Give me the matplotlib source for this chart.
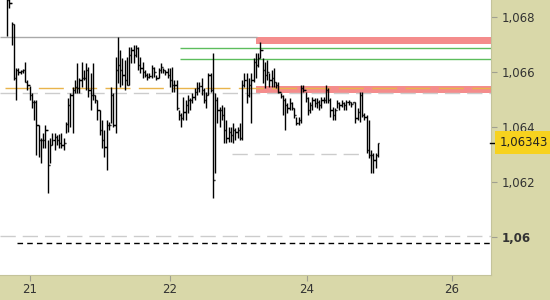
"""EUR/USD intraday OHLC bars with support/resistance levels."""

import matplotlib
matplotlib.use('Agg')
import matplotlib.pyplot as plt
import matplotlib.transforms as mtransforms

# --- data ------------------------------------------------------------------
highs = [
    1.06898, 1.06880, 1.06782, 1.06774, 1.06615, 1.06615, 1.06607, 1.06611, 1.06637, 1.06571,
    1.06549, 1.06524, 1.06498, 1.06498, 1.06407, 1.06360, 1.06378, 1.06407, 1.06353, 1.06360,
    1.06378, 1.06378, 1.06371, 1.06375, 1.06378, 1.06360, 1.06418, 1.06505, 1.06524, 1.06546,
    1.06571, 1.06633, 1.06578, 1.06637, 1.06607, 1.06633, 1.06619, 1.06596, 1.06633, 1.06517,
    1.06498, 1.06462, 1.06425, 1.06389, 1.06425, 1.06418, 1.06546, 1.06524, 1.06655, 1.06727,
    1.06680, 1.06651, 1.06644, 1.06655, 1.06691, 1.06691, 1.06698, 1.06698, 1.06691, 1.06655,
    1.06637, 1.06607, 1.06596, 1.06596, 1.06626, 1.06619, 1.06589, 1.06615, 1.06633, 1.06615,
    1.06607, 1.06615, 1.06615, 1.06619, 1.06571, 1.06571, 1.06462, 1.06451, 1.06509, 1.06498,
    1.06517, 1.06505, 1.06524, 1.06542, 1.06564, 1.06564, 1.06578, 1.06542, 1.06527, 1.06596,
    1.06596, 1.06669, 1.06524, 1.06509, 1.06473, 1.06480, 1.06473, 1.06425, 1.06400, 1.06400,
    1.06414, 1.06396, 1.06400, 1.06414, 1.06571, 1.06596, 1.06596, 1.06578, 1.06596, 1.06651,
    1.06669, 1.06669, 1.06709, 1.06651, 1.06637, 1.06644, 1.06596, 1.06607, 1.06615, 1.06564,
    1.06564, 1.06524, 1.06517, 1.06505, 1.06487, 1.06505, 1.06491, 1.06469, 1.06436, 1.06436,
    1.06553, 1.06553, 1.06527, 1.06509, 1.06491, 1.06509, 1.06505, 1.06505, 1.06498, 1.06509,
    1.06509, 1.06553, 1.06542, 1.06505, 1.06473, 1.06469, 1.06498, 1.06491, 1.06498, 1.06491,
    1.06498, 1.06498, 1.06491, 1.06491, 1.06491, 1.06469, 1.06527, 1.06527, 1.06451, 1.06444,
    1.06425, 1.06316, 1.06305, 1.06305, 1.06342,
]
lows = [
    1.06731, 1.06833, 1.06698, 1.06571, 1.06498, 1.06589, 1.06592, 1.06596, 1.06564, 1.06535,
    1.06498, 1.06469, 1.06425, 1.06298, 1.06291, 1.06269, 1.06324, 1.06324, 1.06160, 1.06269,
    1.06335, 1.06316, 1.06335, 1.06324, 1.06324, 1.06316, 1.06378, 1.06382, 1.06400, 1.06378,
    1.06524, 1.06524, 1.06524, 1.06546, 1.06571, 1.06535, 1.06509, 1.06462, 1.06498, 1.06487,
    1.06425, 1.06371, 1.06324, 1.06291, 1.06244, 1.06389, 1.06414, 1.06400, 1.06378, 1.06560,
    1.06546, 1.06553, 1.06535, 1.06553, 1.06553, 1.06633, 1.06633, 1.06655, 1.06607, 1.06596,
    1.06578, 1.06582, 1.06571, 1.06578, 1.06578, 1.06582, 1.06571, 1.06578, 1.06596, 1.06596,
    1.06589, 1.06578, 1.06546, 1.06527, 1.06527, 1.06462, 1.06425, 1.06400, 1.06425, 1.06425,
    1.06451, 1.06462, 1.06487, 1.06498, 1.06517, 1.06527, 1.06517, 1.06487, 1.06469, 1.06517,
    1.06527, 1.06142, 1.06233, 1.06414, 1.06400, 1.06425, 1.06342, 1.06342, 1.06346, 1.06346,
    1.06342, 1.06353, 1.06360, 1.06353, 1.06353, 1.06546, 1.06487, 1.06509, 1.06414, 1.06564,
    1.06578, 1.06619, 1.06651, 1.06560, 1.06542, 1.06571, 1.06546, 1.06546, 1.06546, 1.06542,
    1.06524, 1.06505, 1.06444, 1.06389, 1.06451, 1.06462, 1.06462, 1.06433, 1.06407, 1.06407,
    1.06414, 1.06527, 1.06491, 1.06444, 1.06451, 1.06462, 1.06473, 1.06469, 1.06462, 1.06469,
    1.06487, 1.06487, 1.06487, 1.06436, 1.06425, 1.06425, 1.06469, 1.06462, 1.06473, 1.06462,
    1.06462, 1.06480, 1.06473, 1.06487, 1.06414, 1.06425, 1.06418, 1.06436, 1.06425, 1.06305,
    1.06287, 1.06233, 1.06233, 1.06251, 1.06291,
]
closes = [
    1.06862, 1.06851, 1.06774, 1.06578, 1.06607, 1.06600, 1.06603, 1.06607, 1.06564, 1.06553,
    1.06517, 1.06491, 1.06491, 1.06407, 1.06353, 1.06353, 1.06353, 1.06389, 1.06262, 1.06335,
    1.06353, 1.06364, 1.06353, 1.06342, 1.06335, 1.06342, 1.06411, 1.06480, 1.06517, 1.06535,
    1.06546, 1.06542, 1.06571, 1.06578, 1.06578, 1.06607, 1.06535, 1.06517, 1.06517, 1.06498,
    1.06462, 1.06389, 1.06353, 1.06327, 1.06407, 1.06407, 1.06517, 1.06407, 1.06607, 1.06626,
    1.06607, 1.06589, 1.06571, 1.06553, 1.06662, 1.06680, 1.06662, 1.06687, 1.06626, 1.06615,
    1.06600, 1.06589, 1.06582, 1.06585, 1.06615, 1.06600, 1.06578, 1.06607, 1.06619, 1.06607,
    1.06600, 1.06589, 1.06571, 1.06553, 1.06553, 1.06469, 1.06444, 1.06433, 1.06455, 1.06480,
    1.06498, 1.06498, 1.06509, 1.06527, 1.06542, 1.06549, 1.06535, 1.06498, 1.06517, 1.06589,
    1.06535, 1.06207, 1.06498, 1.06462, 1.06462, 1.06444, 1.06389, 1.06360, 1.06382, 1.06371,
    1.06389, 1.06382, 1.06389, 1.06360, 1.06553, 1.06571, 1.06517, 1.06553, 1.06571, 1.06637,
    1.06626, 1.06651, 1.06680, 1.06607, 1.06589, 1.06600, 1.06571, 1.06578, 1.06564, 1.06553,
    1.06527, 1.06513, 1.06498, 1.06480, 1.06469, 1.06487, 1.06469, 1.06444, 1.06414, 1.06425,
    1.06542, 1.06535, 1.06505, 1.06462, 1.06480, 1.06498, 1.06487, 1.06491, 1.06480, 1.06498,
    1.06498, 1.06535, 1.06498, 1.06462, 1.06444, 1.06462, 1.06487, 1.06480, 1.06487, 1.06480,
    1.06491, 1.06491, 1.06484, 1.06491, 1.06433, 1.06455, 1.06517, 1.06444, 1.06436, 1.06316,
    1.06298, 1.06298, 1.06280, 1.06298, 1.06343,
]
opens = [
    1.06880, 1.06862, 1.06851, 1.06774, 1.06578, 1.06607, 1.06600, 1.06603, 1.06607, 1.06564,
    1.06553, 1.06517, 1.06491, 1.06491, 1.06407, 1.06353, 1.06353, 1.06353, 1.06389, 1.06262,
    1.06335, 1.06353, 1.06364, 1.06353, 1.06342, 1.06335, 1.06342, 1.06411, 1.06480, 1.06517,
    1.06535, 1.06546, 1.06542, 1.06571, 1.06578, 1.06578, 1.06607, 1.06535, 1.06517, 1.06517,
    1.06498, 1.06462, 1.06389, 1.06353, 1.06327, 1.06407, 1.06407, 1.06517, 1.06407, 1.06607,
    1.06626, 1.06607, 1.06589, 1.06571, 1.06553, 1.06662, 1.06680, 1.06662, 1.06687, 1.06626,
    1.06615, 1.06600, 1.06589, 1.06582, 1.06585, 1.06615, 1.06600, 1.06578, 1.06607, 1.06619,
    1.06607, 1.06600, 1.06589, 1.06571, 1.06553, 1.06553, 1.06469, 1.06444, 1.06433, 1.06455,
    1.06480, 1.06498, 1.06498, 1.06509, 1.06527, 1.06542, 1.06549, 1.06535, 1.06498, 1.06517,
    1.06589, 1.06535, 1.06207, 1.06498, 1.06462, 1.06462, 1.06444, 1.06389, 1.06360, 1.06382,
    1.06371, 1.06389, 1.06382, 1.06389, 1.06360, 1.06553, 1.06571, 1.06517, 1.06553, 1.06571,
    1.06637, 1.06626, 1.06651, 1.06680, 1.06607, 1.06589, 1.06600, 1.06571, 1.06578, 1.06564,
    1.06553, 1.06527, 1.06513, 1.06498, 1.06480, 1.06469, 1.06487, 1.06469, 1.06444, 1.06414,
    1.06425, 1.06542, 1.06535, 1.06505, 1.06462, 1.06480, 1.06498, 1.06487, 1.06491, 1.06480,
    1.06498, 1.06498, 1.06535, 1.06498, 1.06462, 1.06444, 1.06462, 1.06487, 1.06480, 1.06487,
    1.06480, 1.06491, 1.06491, 1.06484, 1.06491, 1.06433, 1.06455, 1.06517, 1.06444, 1.06436,
    1.06316, 1.06298, 1.06298, 1.06280, 1.06298,
]

last_price = 1.06343
last_label = '1,06343'

price_ticks = [1.060, 1.062, 1.064, 1.066, 1.068]
price_labels = ['1,06', '1,062', '1,064', '1,066', '1,068']
date_ticks = [10.2, 72.1, 132.6, 196.7]      # bar index of each date label
date_labels = ['21', '22', '24', '26']

# horizontal levels
prev_high = 1.06727                 # grey line
resist_band = (1.06702, 1.06727)    # upper red zone
green_levels = [1.06687, 1.06647]
mid_band = (1.06524, 1.06549)       # lower red zone
pivot = 1.06542                     # orange dashed
grey_dashed = [1.06524, 1.06004]
short_dashed = 1.06302
black_dashed = 1.05978

# --- figure ------------------------------------------------------------------
PANEL = '#d9d8a9'
fig = plt.figure(figsize=(5.5, 3.0), dpi=100, facecolor=PANEL)
ax = fig.add_axes([0, 25 / 300, 491 / 550, 275 / 300])
ax.set_facecolor('white')

n = len(highs)
x = list(range(n))
ax.set_xlim(-3.1, 214.0)
ax.set_ylim(1.058618, 1.068618)

# zones and levels (drawn under the bars)
ax.axhspan(*resist_band, xmin=0.521, xmax=1, color='#f48c8c', lw=0, zorder=1)
ax.axhspan(*mid_band, xmin=0.521, xmax=1, color='#f48c8c', lw=0, zorder=1)
ax.hlines(prev_high, -3.1, 110.5, color='#a9a9a9', lw=1, zorder=2)
ax.hlines(green_levels, 76.5, 214, color='#5cbd5c', lw=1, zorder=2)
ax.axhline(pivot, xmin=0.01, color='#e9b44c', lw=1, dashes=(18, 6), zorder=2)
for lvl in grey_dashed:
    ax.axhline(lvl, color='#cccccc', lw=1, dashes=(11, 5), zorder=2)
ax.hlines(short_dashed, 99.5, 158.3, color='#cccccc', lw=1,
          linestyles=(0, (11, 5)), zorder=2)
ax.axhline(black_dashed, xmin=0.035, color='black', lw=1, dashes=(4, 3), zorder=2)

# OHLC bars
ax.vlines(x, lows, highs, color='black', lw=1.0, zorder=3)
ax.hlines(opens, [i - 0.55 for i in x], x, color='black', lw=1.0, zorder=3)
ax.hlines(closes, x, [i + 0.55 for i in x], color='black', lw=1.0, zorder=3)

# axes styling
for side in ('top', 'left'):
    ax.spines[side].set_visible(False)
ax.spines['right'].set_color('#c4c39a')
ax.spines['bottom'].set_color('#c4c39a')

ax.yaxis.tick_right()
ax.set_yticks(price_ticks)
ax.set_yticklabels(price_labels)
ax.tick_params(axis='y', direction='out', length=4, width=0.8, color='#a0a090',
               labelsize=8.5, labelcolor='#333333', pad=4)
ax.get_yticklabels()[0].set_fontweight('bold')

ax.set_xticks(date_ticks)
ax.set_xticklabels(date_labels)
ax.tick_params(axis='x', direction='out', length=4, width=0.8, color='#a0a090',
               labelsize=8.5, labelcolor='#333333', pad=2)

# last price marker
trans = mtransforms.blended_transform_factory(ax.transAxes, ax.transData)
ax.plot([0.998, 1.012], [last_price, last_price], color='black', lw=1,
        transform=trans, clip_on=False, zorder=5)
ax.text(1.018, last_price, last_label, transform=trans, fontsize=8.5,
        va='center', ha='left', color='#222222', zorder=6,
        bbox=dict(boxstyle='square,pad=0.4', fc='#f7d21e', ec='none'))

fig.savefig('out.png', dpi=100, facecolor=PANEL)
